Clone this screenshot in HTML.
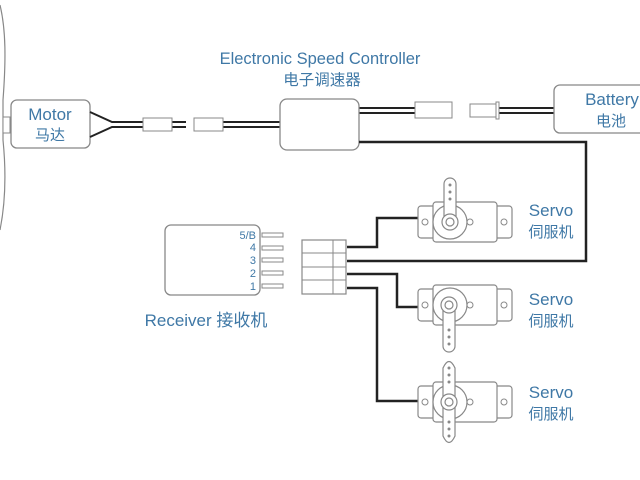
<!DOCTYPE html>
<html><head><meta charset="utf-8"><style>
html,body{margin:0;padding:0;background:#fff;width:640px;height:480px;overflow:hidden}
text{font-family:"Liberation Sans","Noto Sans CJK SC",sans-serif;fill:#3f78a6}
</style></head><body>
<svg width="640" height="480" viewBox="0 0 640 480" xmlns="http://www.w3.org/2000/svg">
<defs>
<g id="sv">
 <rect x="0" y="-16" width="94" height="32" rx="3" fill="#fff" stroke="#888" stroke-width="1.2"/>
 <rect x="15" y="-20" width="64" height="40" rx="3" fill="#fff" stroke="#888" stroke-width="1.2"/>
 <circle cx="7" cy="0" r="3" fill="none" stroke="#888"/>
 <circle cx="86" cy="0" r="3" fill="none" stroke="#888"/>
 <circle cx="32" cy="0" r="17" fill="#fff" stroke="#888" stroke-width="1.2"/>
 <circle cx="52" cy="0" r="3" fill="none" stroke="#888"/>
</g>
<g id="hub">
 <circle cx="0" cy="0" r="8" fill="#fff" stroke="#888" stroke-width="1.2"/>
 <circle cx="0" cy="0" r="4" fill="none" stroke="#888" stroke-width="1.2"/>
</g>
</defs>
<path d="M0,5 C6,30 6,60 3,100 L3,140 C6,170 6,200 0,230" fill="none" stroke="#888" stroke-width="1.2"/>
<rect x="3" y="117" width="7" height="16" fill="#fff" stroke="#888"/>
<rect x="11" y="100" width="79" height="48" rx="6" fill="#fff" stroke="#888" stroke-width="1.3"/>
<text x="50" y="120" font-size="17" text-anchor="middle">Motor</text>
<text x="50" y="140" font-size="15" text-anchor="middle">马达</text>
<path d="M90,112 L112,122 L186,122 M90,137 L112,127 L186,127" fill="none" stroke="#222" stroke-width="2"/>
<path d="M194,122 L280,122 M194,127 L280,127" stroke="#222" stroke-width="2"/>
<rect x="143" y="118" width="29" height="13" fill="#fff" stroke="#888"/>
<rect x="194" y="118" width="29" height="13" fill="#fff" stroke="#888"/>
<text x="320" y="64" font-size="16.5" text-anchor="middle">Electronic Speed Controller</text>
<text x="322" y="85" font-size="15.5" text-anchor="middle">电子调速器</text>
<path d="M359,108 L415,108 M359,113 L415,113 M497,108 L555,108 M497,113 L555,113" stroke="#222" stroke-width="2"/>
<rect x="280" y="99" width="79" height="51" rx="7" fill="#fff" stroke="#888" stroke-width="1.3"/>
<rect x="415" y="102" width="37" height="16" fill="#fff" stroke="#888"/>
<rect x="470" y="104" width="26" height="13" fill="#fff" stroke="#888"/>
<rect x="496" y="102" width="3" height="17" fill="#fff" stroke="#888"/>
<rect x="554" y="85" width="100" height="48" rx="6" fill="#fff" stroke="#888" stroke-width="1.3"/>
<text x="612" y="105" font-size="17" text-anchor="middle">Battery</text>
<text x="611" y="126" font-size="15" text-anchor="middle">电池</text>
<path d="M359,142 L586,142 L586,261 L347,261" fill="none" stroke="#222" stroke-width="2.5"/>
<rect x="165" y="225" width="95" height="70" rx="6" fill="#fff" stroke="#888" stroke-width="1.3"/>
<g font-size="11" text-anchor="end">
<text x="256" y="239">5/B</text><text x="256" y="251">4</text><text x="256" y="264">3</text><text x="256" y="277">2</text><text x="256" y="290">1</text>
</g>
<g fill="#fff" stroke="#888">
<rect x="262" y="233" width="21" height="4"/><rect x="262" y="246" width="21" height="4"/><rect x="262" y="258" width="21" height="4"/><rect x="262" y="271" width="21" height="4"/><rect x="262" y="284" width="21" height="4"/>
</g>
<text x="206" y="326" font-size="17" text-anchor="middle">Receiver 接收机</text>
<rect x="302" y="240" width="44" height="54" fill="#fff" stroke="#888" stroke-width="1.2"/>
<path d="M333,240 V294 M302,253 H346 M302,267 H346 M302,280 H346" stroke="#888"/>
<path d="M347,247 H377 V218 H418 M347,274 H397 V307 H418 M347,288 H377 V401 H418" fill="none" stroke="#222" stroke-width="2.5"/>
<use href="#sv" x="418" y="222"/>
<rect x="444" y="178" width="12" height="44" rx="6" fill="#fff" stroke="#888" stroke-width="1.2"/>
<g fill="#888"><circle cx="450" cy="185" r="1.5"/><circle cx="450" cy="192" r="1.5"/><circle cx="450" cy="199" r="1.5"/></g>
<use href="#hub" x="450" y="222"/>
<text x="551" y="216" font-size="17" text-anchor="middle">Servo</text>
<text x="551" y="237" font-size="15" text-anchor="middle">伺服机</text>
<use href="#sv" x="418" y="305"/>
<rect x="443" y="305" width="12" height="47" rx="6" fill="#fff" stroke="#888" stroke-width="1.2"/>
<g fill="#888"><circle cx="449" cy="330" r="1.5"/><circle cx="449" cy="337" r="1.5"/><circle cx="449" cy="344" r="1.5"/></g>
<use href="#hub" x="449" y="305"/>
<text x="551" y="305" font-size="17" text-anchor="middle">Servo</text>
<text x="551" y="326" font-size="15" text-anchor="middle">伺服机</text>
<use href="#sv" x="418" y="402"/>
<path d="M443,368 Q449,355 455,368 L455,436 Q449,449 443,436 Z" fill="#fff" stroke="#888" stroke-width="1.2"/>
<g fill="#888"><circle cx="449" cy="368" r="1.5"/><circle cx="449" cy="375" r="1.5"/><circle cx="449" cy="382" r="1.5"/><circle cx="449" cy="422" r="1.5"/><circle cx="449" cy="429" r="1.5"/><circle cx="449" cy="436" r="1.5"/></g>
<use href="#hub" x="449" y="402"/>
<text x="551" y="398" font-size="17" text-anchor="middle">Servo</text>
<text x="551" y="419" font-size="15" text-anchor="middle">伺服机</text>
</svg>
</body></html>
